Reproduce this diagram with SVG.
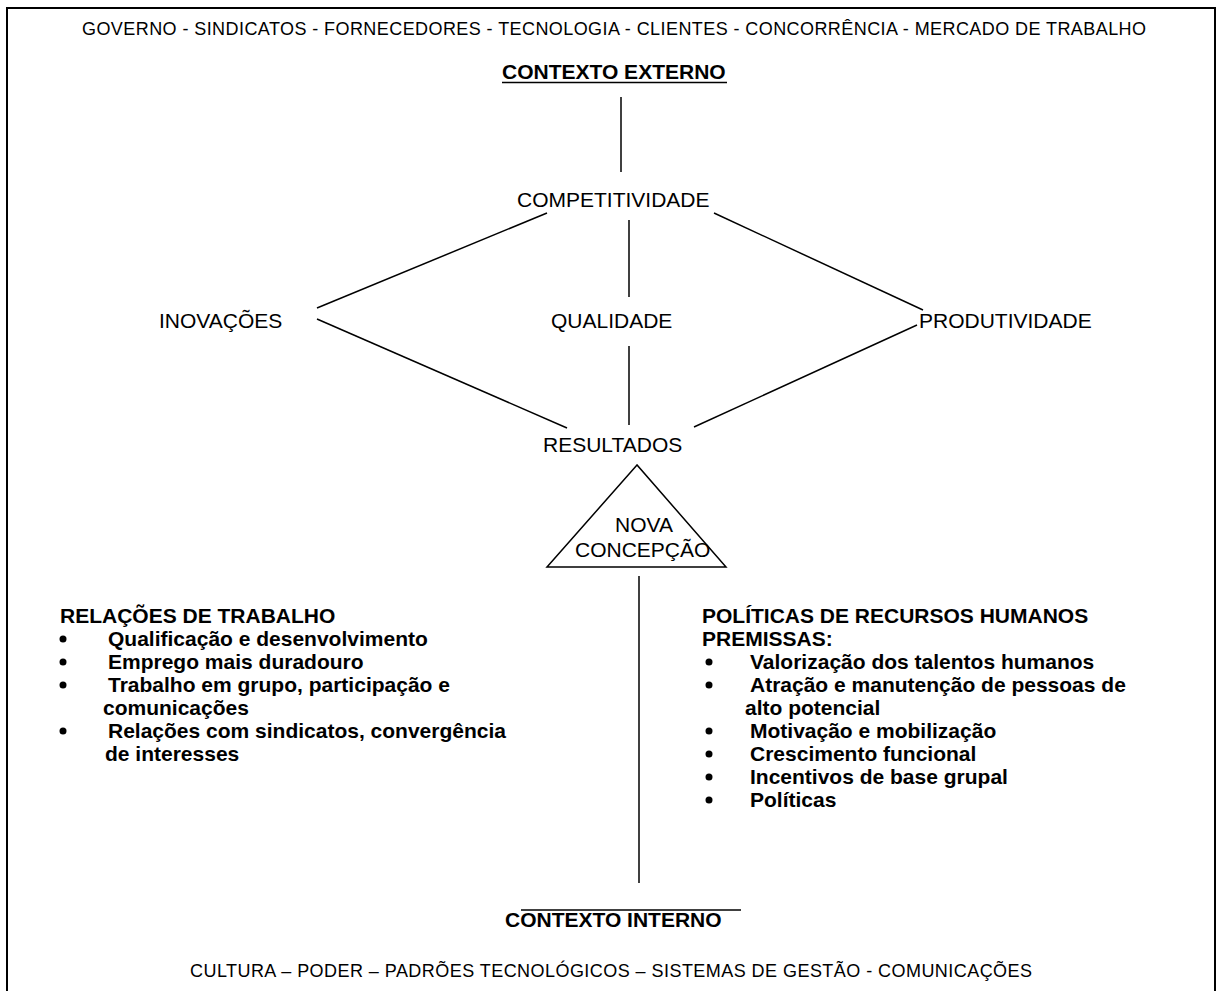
<svg xmlns="http://www.w3.org/2000/svg" width="1218" height="991" viewBox="0 0 1218 991">
<style>
.t{font-family:"Liberation Sans",Arial,sans-serif;fill:#000}
.r{font-size:21px}
.s{font-size:18px}
.b{font-size:21px;font-weight:bold}
.ln{stroke:#000;stroke-width:1.5;fill:none}
</style>
<rect x="0" y="0" width="1218" height="991" fill="#fff"/>
<rect x="7" y="8" width="1208" height="1000" fill="none" stroke="#000" stroke-width="2"/>
<g id="external-factors"><text class="t s" x="82" y="35" textLength="1064" lengthAdjust="spacing">GOVERNO - SINDICATOS - FORNECEDORES - TECNOLOGIA - CLIENTES - CONCORRÊNCIA - MERCADO DE TRABALHO</text></g>
<g id="contexto-externo"><text class="t b" x="502" y="79">CONTEXTO EXTERNO</text><line class="ln" x1="502" y1="82.5" x2="727" y2="82.5"/></g>
<g id="competitividade"><text class="t r" x="517" y="207">COMPETITIVIDADE</text></g>
<g id="inovacoes"><text class="t r" x="159" y="328">INOVAÇÕES</text></g>
<g id="qualidade"><text class="t r" x="551" y="328">QUALIDADE</text></g>
<g id="produtividade"><text class="t r" x="919" y="328">PRODUTIVIDADE</text></g>
<g id="resultados"><text class="t r" x="543" y="452">RESULTADOS</text></g>
<g id="nova-concepcao"><polygon points="637,465 547,567 726,567" fill="none" stroke="#000" stroke-width="1.5"/><text class="t r" x="615" y="532">NOVA</text><text class="t r" x="575" y="557">CONCEPÇÃO</text></g>
<g id="connectors">
<line class="ln" x1="621" y1="97" x2="621" y2="172"/>
<line class="ln" x1="547" y1="213" x2="317" y2="308"/>
<line class="ln" x1="629" y1="220" x2="629" y2="297"/>
<line class="ln" x1="714" y1="213" x2="923" y2="310"/>
<line class="ln" x1="317" y1="319" x2="567" y2="428"/>
<line class="ln" x1="629" y1="346" x2="629" y2="425"/>
<line class="ln" x1="917" y1="325" x2="694" y2="427"/>
<line class="ln" x1="639" y1="576" x2="639" y2="883"/>
</g>
<g id="relacoes-trabalho">
<text class="t b" x="60" y="623">RELAÇÕES DE TRABALHO</text>
<circle cx="63" cy="639" r="3.5"/><text class="t b" x="108" y="646">Qualificação e desenvolvimento</text>
<circle cx="63" cy="662" r="3.5"/><text class="t b" x="108" y="669">Emprego mais duradouro</text>
<circle cx="63" cy="685" r="3.5"/><text class="t b" x="108" y="692">Trabalho em grupo, participação e</text>
<text class="t b" x="103" y="715">comunicações</text>
<circle cx="63" cy="731" r="3.5"/><text class="t b" x="108" y="738">Relações com sindicatos, convergência</text>
<text class="t b" x="105" y="761">de interesses</text>
</g>
<g id="politicas-rh">
<text class="t b" x="702" y="623">POLÍTICAS DE RECURSOS HUMANOS</text>
<text class="t b" x="702" y="646">PREMISSAS:</text>
<circle cx="709" cy="662" r="3.5"/><text class="t b" x="750" y="669">Valorização dos talentos humanos</text>
<circle cx="709" cy="685" r="3.5"/><text class="t b" x="750" y="692">Atração e manutenção de pessoas de</text>
<text class="t b" x="745" y="715">alto potencial</text>
<circle cx="709" cy="731" r="3.5"/><text class="t b" x="750" y="738">Motivação e mobilização</text>
<circle cx="709" cy="754" r="3.5"/><text class="t b" x="750" y="761">Crescimento funcional</text>
<circle cx="709" cy="777" r="3.5"/><text class="t b" x="750" y="784">Incentivos de base grupal</text>
<circle cx="709" cy="800" r="3.5"/><text class="t b" x="750" y="807">Políticas</text>
</g>
<g id="contexto-interno"><line class="ln" x1="521" y1="910" x2="741" y2="910"/><text class="t b" x="505" y="927">CONTEXTO INTERNO</text></g>
<g id="internal-factors"><text class="t s" x="190" y="977" textLength="842" lengthAdjust="spacing">CULTURA – PODER – PADRÕES TECNOLÓGICOS – SISTEMAS DE GESTÃO - COMUNICAÇÕES</text></g>
</svg>
